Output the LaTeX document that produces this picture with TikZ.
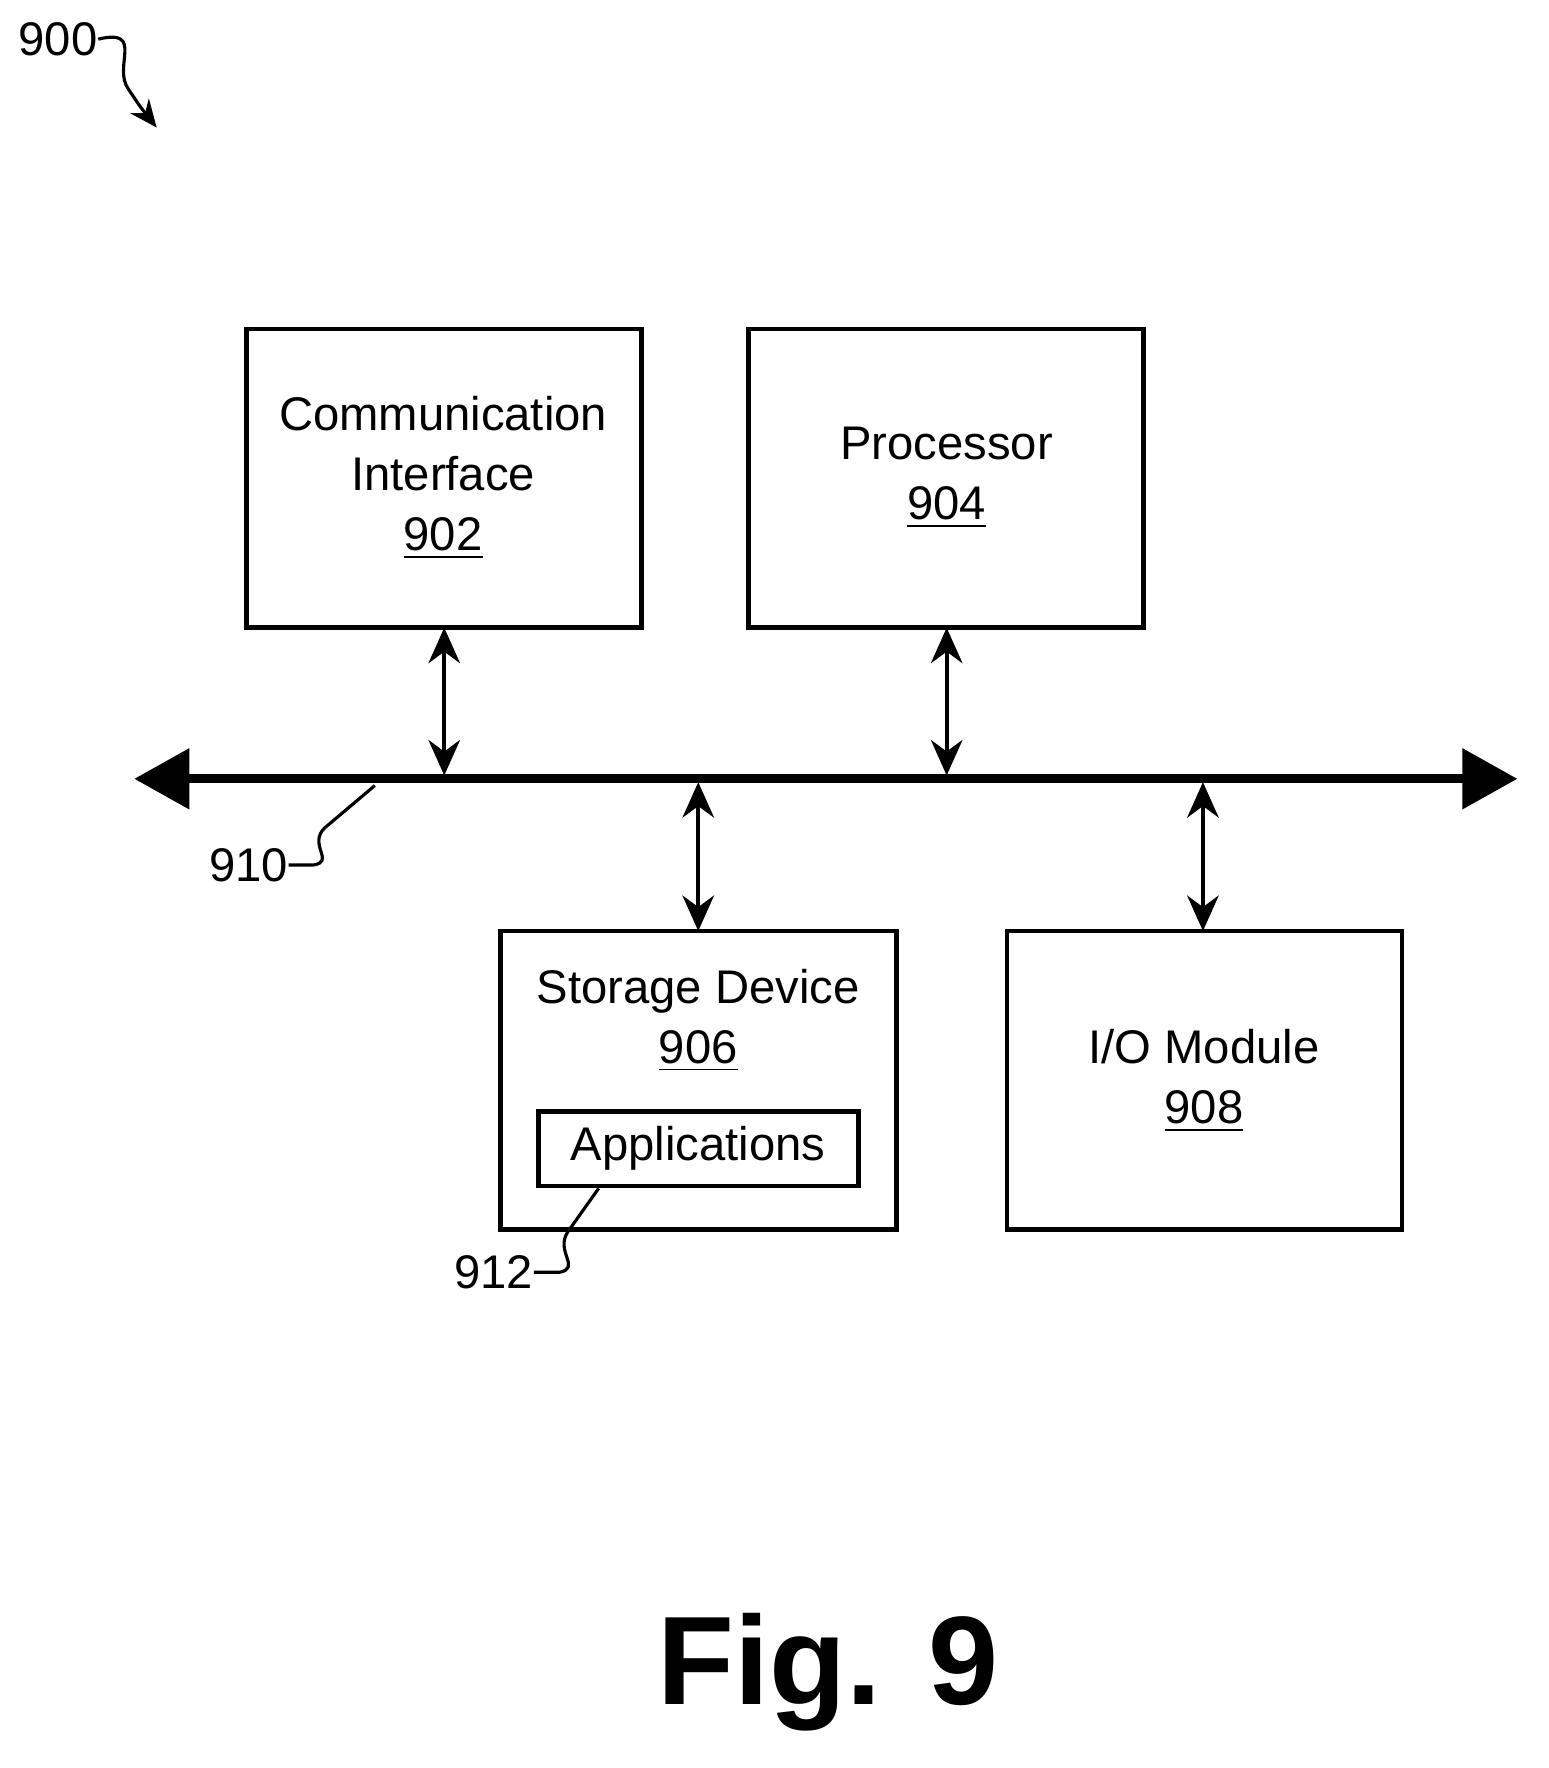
\documentclass[tikz,border=0pt]{standalone}
\usepackage{fontspec}
\setmainfont{Liberation Sans}
\usetikzlibrary{arrows.meta}
\begin{document}
\begin{tikzpicture}[x=0.01cm,y=-0.01cm,
  box/.style={draw,line width=1.2pt,inner sep=0pt},
  lbl/.style={font=\fontsize{12}{15.3}\selectfont,align=center},
  biarrow/.style={line width=1.1pt,{Stealth[length=9pt,width=8pt]}-{Stealth[length=9pt,width=8pt]}},
  lead/.style={line width=0.8pt}]
\useasboundingbox (0,0) rectangle (1384,1580);
\draw[box] (220,294) rectangle (573,561);
\node[lbl] (n902) at (396,427) {Communication\\Interface\\\underline{902}};
\draw[box] (669,294) rectangle (1022,561);
\node[lbl] (n904) at (846,427) {Processor\\\underline{904}};
\draw[box] (447,832) rectangle (801,1099);
\node[lbl] (n906) at (624,912) {Storage Device\\\underline{906}};
\draw[box] (481,993) rectangle (767,1060);
\node[lbl] (app) at (624,1026) {Applications};
\draw[box] (900,832) rectangle (1253,1099);
\node[lbl] (n908) at (1076,966) {I/O Module\\\underline{908}};
\coordinate (bl) at (120,696); \coordinate (br) at (1356,696);
\draw[line width=2.2pt,{Triangle[length=14pt,width=15pt]}-{Triangle[length=14pt,width=15pt]}] (bl) -- (br);
\coordinate (a1) at (397,561); \coordinate (a2) at (397,693);
\coordinate (b1) at (846,561); \coordinate (b2) at (846,693);
\coordinate (c1) at (624,699); \coordinate (c2) at (624,832);
\coordinate (d1) at (1075,699); \coordinate (d2) at (1075,832);
\draw[biarrow] (a1)--(a2); \draw[biarrow] (b1)--(b2);
\draw[biarrow] (c1)--(c2); \draw[biarrow] (d1)--(d2);
\node[lbl,anchor=west,inner sep=0pt] (l900) at (16,35) {900};
\draw[lead,-{Stealth[length=7pt,width=6pt]}] (l900.east) .. controls (130,25) and (100,60) .. (115,80) .. controls (125,95) .. (140,114);
\node[lbl,anchor=east,inner sep=0pt] (l910) at (258,773) {910};
\draw[lead] (l910.east) -- (280,773) .. controls (300,770) and (275,755) .. (290,740) -- (335,702);
\node[lbl,anchor=east,inner sep=0pt] (l912) at (477,1137) {912};
\draw[lead] (l912.east) -- (500,1137) .. controls (520,1133) and (495,1118) .. (508,1100) -- (535,1062);
\node[font=\bfseries\fontsize{32}{36}\selectfont] (fig) at (740,1494) {Fig. 9};
\end{tikzpicture}
\end{document}
